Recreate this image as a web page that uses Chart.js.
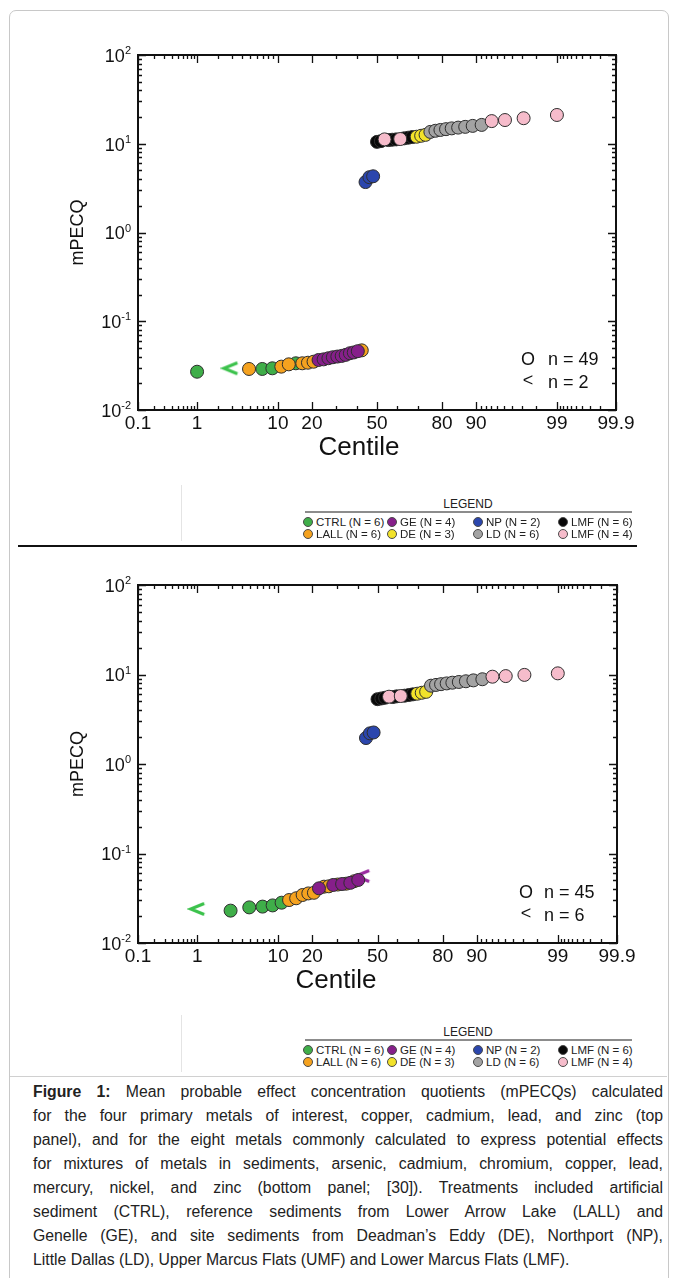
<!DOCTYPE html>
<html>
<head>
<meta charset="utf-8">
<title>mPECQ probability plots</title>
<script src="https://cdn.jsdelivr.net/npm/chart.js@4.4.1/dist/chart.umd.min.js"></script>
<style>
  body {
    margin: 0;
    width: 677px;
    height: 1278px;
    position: relative;
    overflow: hidden;
    background: #fff;
    font-family: "Liberation Sans", Arial, Helvetica, sans-serif;
    color: #1a1a1a;
  }
  .card {
    position: absolute;
    left: 9px; top: 10px;
    width: 658px; height: 1300px;
    border: 1px solid #c8c8c8;
    border-radius: 7px;
  }
  canvas { position: absolute; left: 0; }
  .sep { position: absolute; left: 18px; width: 619px; top: 545px; height: 2px; background: #111; }
  .caption-rule { position: absolute; left: 10px; width: 657px; top: 1076px; height: 1px; background: #d0d0d0; }
  .legend-edge { position: absolute; left: 181px; width: 1px; background: #e4e4e4; }
  .lg-title { position: absolute; font-size: 12px; transform: translate(-50%, -50%); color: #222; }
  .lg-rule { position: absolute; left: 305px; width: 327px; height: 2px; background: #8c8c8c; }
  .lg-dot {
    position: absolute; width: 10px; height: 10px; border-radius: 50%;
    box-sizing: border-box; border: 1px solid #4a4a4a; transform: translate(-50%, -50%);
  }
  .lg-text { position: absolute; font-size: 11.5px; color: #222; transform: translateY(-50%); white-space: nowrap; }
  .caption {
    position: absolute; left: 33px; top: 1080px; width: 630px;
    font-size: 15.8px; line-height: 24px; color: #222;
  }
  .caption .j { text-align: justify; text-align-last: justify; white-space: nowrap; }
</style>
</head>
<body>
<div class="card"></div>
<div class="legend-edge" style="top:485px;height:56px"></div>
<div class="legend-edge" style="top:1015px;height:57px"></div>
<canvas id="topChart" width="677" height="470" style="top:0"></canvas>
<canvas id="bottomChart" width="677" height="470" style="top:530px"></canvas>
<div class="sep"></div>
<div id="legends"></div>
<div class="caption-rule"></div>
<div class="caption">
  <div class="j"><b>Figure 1:</b> Mean probable effect concentration quotients (mPECQs) calculated</div>
  <div class="j">for the four primary metals of interest, copper, cadmium, lead, and zinc (top</div>
  <div class="j">panel), and for the eight metals commonly calculated to express potential effects</div>
  <div class="j">for mixtures of metals in sediments, arsenic, cadmium, chromium, copper, lead,</div>
  <div class="j">mercury, nickel, and zinc (bottom panel; [30]). Treatments included artificial</div>
  <div class="j">sediment (CTRL), reference sediments from Lower Arrow Lake (LALL) and</div>
  <div class="j">Genelle (GE), and site sediments from Deadman’s Eddy (DE), Northport (NP),</div>
  <div>Little Dallas (LD), Upper Marcus Flats (UMF) and Lower Marcus Flats (LMF).</div>
</div>

<script>
// ===== AXIS TICKS =====
const xMajorTicks = [0.1, 1, 10, 20, 50, 80, 90, 99, 99.9];
const xMinorTicks = [0.2, 0.3, 0.4, 0.5, 0.6, 0.7, 0.8, 0.9, 2, 3, 4, 5, 6, 7, 8, 9,
                     30, 40, 60, 70, 91, 92, 93, 94, 95, 96, 97, 98,
                     99.1, 99.2, 99.3, 99.4, 99.5, 99.6, 99.7, 99.8];
const yMajorTicks = [0.01, 0.1, 1, 10, 100];
const yMinorSteps = [2, 3, 4, 5, 6, 7, 8, 9];

// ===== TOP PANEL: Cu, Cd, Pb, Zn =====
const topCtrlCentile = [1.0, 6.9, 8.8, 14.7];
const topCtrlMpecq   = [0.027, 0.029, 0.0295, 0.0336];
const topLallCentile = [4.9, 10.8, 12.7, 16.7, 18.6, 20.6, 42.2];
const topLallMpecq   = [0.029, 0.0308, 0.0327, 0.0336, 0.0341, 0.035, 0.047];
const topGeCentile   = [22.5, 24.5, 26.5, 28.4, 30.4, 32.4, 34.3, 36.3, 38.2, 40.2];
const topGeMpecq     = [0.0366, 0.0372, 0.0383, 0.0393, 0.040, 0.0407, 0.0418, 0.0436, 0.0445, 0.046];
const topNpCentile   = [44.1, 46.1, 48.0];
const topNpMpecq     = [3.7, 4.2, 4.3];
const topLmfCentile  = [50.0, 52.0, 55.9, 57.8, 59.8, 63.7, 65.7, 67.6];
const topLmfMpecq    = [10.5, 10.7, 11.0, 11.1, 11.2, 11.5, 11.7, 11.9];
const topUmfCentile  = [53.9, 61.8, 93.1, 95.1, 97.1, 99.0];
const topUmfMpecq    = [11.2, 11.3, 18.0, 18.5, 19.4, 21.1];
const topDeCentile   = [69.6, 71.6, 73.5];
const topDeMpecq     = [12.0, 12.3, 12.6];
const topLdCentile   = [75.5, 77.5, 79.4, 81.4, 83.3, 85.3, 87.3, 89.2, 91.2];
const topLdMpecq     = [13.6, 14.0, 14.3, 14.6, 14.9, 15.2, 15.5, 15.9, 16.3];
const topCtrlLessCentile = [2.9];
const topCtrlLessMpecq   = [0.0295];
const topCircleCount = 49;
const topLessCount = 2;

// ===== BOTTOM PANEL: eight metals =====
const botCtrlCentile = [2.9, 4.9, 6.9, 8.8, 10.8];
const botCtrlMpecq   = [0.023, 0.025, 0.0255, 0.0263, 0.0282];
const botLallCentile = [12.7, 14.7, 16.7, 18.6, 20.6, 24.5, 26.5, 30.4, 34.3, 38.2];
const botLallMpecq   = [0.0302, 0.0316, 0.0344, 0.0358, 0.0364, 0.0426, 0.043, 0.045, 0.046, 0.049];
const botGeCentile   = [22.5, 28.4, 32.4, 36.3, 40.2];
const botGeMpecq     = [0.0408, 0.0445, 0.0456, 0.047, 0.0506];
const botNpCentile   = [44.1, 46.1, 48.0];
const botNpMpecq     = [1.95, 2.2, 2.25];
const botLmfCentile  = [50.0, 52.0, 53.9, 57.8, 59.8, 63.7, 65.7, 67.6];
const botLmfMpecq    = [5.3, 5.4, 5.5, 5.6, 5.7, 5.8, 5.9, 6.0];
const botUmfCentile  = [55.9, 61.8, 93.1, 95.1, 97.1, 99.0];
const botUmfMpecq    = [5.65, 5.75, 9.45, 9.6, 9.9, 10.3];
const botDeCentile   = [69.6, 71.6, 73.5];
const botDeMpecq     = [6.1, 6.25, 6.4];
const botLdCentile   = [75.5, 77.5, 79.4, 81.4, 83.3, 85.3, 87.3, 89.2, 91.2];
const botLdMpecq     = [7.5, 7.65, 7.8, 7.95, 8.1, 8.25, 8.4, 8.6, 8.85];
const botCtrlLessCentile = [1.0];
const botCtrlLessMpecq   = [0.024];
const botGeLessCentile   = [42.2];
const botGeLessMpecq     = [0.056];
const botCircleCount = 45;
const botLessCount = 6;

// ===== LEGEND =====
const legendNames  = ['CTRL', 'LALL', 'GE', 'DE', 'NP', 'LD', 'LMF', 'LMF'];
const legendCounts = [6, 6, 4, 3, 2, 6, 6, 4];

const colors = {
  ctrl: '#3fae49', lall: '#f5a21f', ge: '#861f8a', de: '#f2e22a',
  np: '#2b46ad', ld: '#a3a3a3', lmf: '#080808', umf: '#f6bccb'
};
const legendColors = [colors.ctrl, colors.lall, colors.ge, colors.de,
                      colors.np, colors.ld, colors.lmf, colors.umf];
const FONT = '"Liberation Sans", Arial, Helvetica, sans-serif';

// inverse standard normal CDF (Acklam), used for the probability axis
function probit(p) {
  const a = [-3.969683028665376e+01, 2.209460984245205e+02, -2.759285104469687e+02,
             1.383577518672690e+02, -3.066479806614716e+01, 2.506628277459239e+00];
  const b = [-5.447609879822406e+01, 1.615858368580409e+02, -1.556989798598866e+02,
             6.680131188771972e+01, -1.328068155288572e+01];
  const c = [-7.784894002430293e-03, -3.223964580411365e-01, -2.400758277161838e+00,
             -2.549732539343734e+00, 4.374664141464968e+00, 2.938163982698783e+00];
  const d = [7.784695709041462e-03, 3.224671290700398e-01, 2.445134137142996e+00,
             3.754408661907416e+00];
  const lo = 0.02425;
  if (p < lo) {
    const q = Math.sqrt(-2 * Math.log(p));
    return (((((c[0]*q + c[1])*q + c[2])*q + c[3])*q + c[4])*q + c[5]) /
           ((((d[0]*q + d[1])*q + d[2])*q + d[3])*q + 1);
  }
  if (p > 1 - lo) return -probit(1 - p);
  const q = p - 0.5, r = q * q;
  return (((((a[0]*r + a[1])*r + a[2])*r + a[3])*r + a[4])*r + a[5]) * q /
         (((((b[0]*r + b[1])*r + b[2])*r + b[3])*r + b[4])*r + 1);
}

// "<" marker used for values below detection
function lessThanMark(color) {
  const c = document.createElement('canvas');
  c.width = 20; c.height = 16;
  const g = c.getContext('2d');
  g.strokeStyle = color;
  g.lineWidth = 3;
  g.beginPath();
  g.moveTo(17, 2.5); g.lineTo(3.5, 8); g.lineTo(17, 13.5);
  g.stroke();
  return c;
}

function series(label, color, order, centiles, values) {
  return {
    label: label,
    order: order,
    data: centiles.map((c, i) => ({ x: probit(c / 100), y: values[i] })),
    backgroundColor: color,
    borderColor: '#2e2e2e',
    borderWidth: 1,
    pointRadius: 6.5,
    pointHoverRadius: 6.5
  };
}

function lessSeries(color, order, centiles, values) {
  return {
    label: '<',
    order: order,
    data: centiles.map((c, i) => ({ x: probit(c / 100), y: values[i] })),
    pointStyle: lessThanMark(color),
    pointRadius: 6,
    pointHoverRadius: 6
  };
}

// ===== FRAME, TICKS AND LABELS =====
const probFrame = {
  id: 'probFrame',
  afterDatasetsDraw(chart, args, o) {
    const { ctx, chartArea: a } = chart;
    const x = chart.scales.x, y = chart.scales.y;
    const xp = c => x.getPixelForValue(probit(c / 100));
    ctx.save();

    ctx.strokeStyle = '#111';
    ctx.lineWidth = 2;
    ctx.strokeRect(a.left, a.top, a.right - a.left, a.bottom - a.top);

    ctx.lineWidth = 1.3;
    ctx.beginPath();
    const xTick = (c, len) => {
      const px = Math.round(xp(c)) + 0.5;
      ctx.moveTo(px, a.bottom); ctx.lineTo(px, a.bottom - len);
      ctx.moveTo(px, a.top); ctx.lineTo(px, a.top + len);
    };
    const yTick = (v, len) => {
      const py = Math.round(y.getPixelForValue(v)) + 0.5;
      ctx.moveTo(a.left, py); ctx.lineTo(a.left + len, py);
      ctx.moveTo(a.right, py); ctx.lineTo(a.right - len, py);
    };
    xMajorTicks.forEach(c => xTick(c, 8));
    xMinorTicks.forEach(c => xTick(c, 4));
    yMajorTicks.forEach(v => yTick(v, 8));
    yMajorTicks.slice(0, -1).forEach(v => yMinorSteps.forEach(m => yTick(v * m, 4)));
    ctx.stroke();

    ctx.fillStyle = '#111';
    ctx.textBaseline = 'middle';
    ctx.textAlign = 'center';
    ctx.font = '19px ' + FONT;
    xMajorTicks.forEach(c => ctx.fillText(String(c), xp(c), a.bottom + 14));

    ctx.textAlign = 'left';
    yMajorTicks.forEach(v => {
      const py = y.getPixelForValue(v);
      const exp = String(Math.round(Math.log10(v)));
      ctx.font = '11px ' + FONT;
      const we = ctx.measureText(exp).width;
      ctx.font = '18px ' + FONT;
      const wb = ctx.measureText('10').width;
      const right = a.left - 7;
      ctx.fillText('10', right - we - wb, py + 2);
      ctx.font = '11px ' + FONT;
      ctx.fillText(exp, right - we, py - 4);
    });

    // axis titles
    ctx.textAlign = 'center';
    ctx.font = '26px ' + FONT;
    ctx.fillText('Centile', o.centileX, a.bottom + 38);
    ctx.save();
    ctx.translate(o.titleX, (a.top + a.bottom) / 2);
    ctx.rotate(-Math.PI / 2);
    ctx.font = '18px ' + FONT;
    ctx.fillText('mPECQ', 0, 0);
    ctx.restore();

    // sample-size key
    ctx.font = '18px ' + FONT;
    ctx.fillText('O', o.keyX, a.bottom - 50);
    ctx.fillText('<', o.keyX, a.bottom - 29);
    ctx.textAlign = 'left';
    ctx.fillText('n = ' + o.circles, o.keyTextX, a.bottom - 50);
    ctx.fillText('n = ' + o.less, o.keyTextX, a.bottom - 27);
    ctx.restore();
  }
};

function makeChart(id, sets, padding, frameOpts) {
  return new Chart(document.getElementById(id), {
    type: 'scatter',
    data: { datasets: sets },
    options: {
      responsive: false,
      animation: false,
      events: [],
      layout: { padding: padding },
      plugins: {
        legend: { display: false },
        tooltip: { enabled: false },
        probFrame: frameOpts
      },
      scales: {
        x: { type: 'linear', display: false, min: probit(0.001), max: probit(0.999) },
        y: { type: 'logarithmic', display: false, min: 0.01, max: 100 }
      }
    },
    plugins: [probFrame]
  });
}

// ===== TOP CHART =====
// lower "order" is painted later, so pink ends up on top
makeChart('topChart', [
  series('CTRL', colors.ctrl, 8, topCtrlCentile, topCtrlMpecq),
  series('LALL', colors.lall, 7, topLallCentile, topLallMpecq),
  series('GE', colors.ge, 6, topGeCentile, topGeMpecq),
  series('NP', colors.np, 5, topNpCentile, topNpMpecq),
  series('LMF', colors.lmf, 4, topLmfCentile, topLmfMpecq),
  series('DE', colors.de, 3, topDeCentile, topDeMpecq),
  series('LD', colors.ld, 2, topLdCentile, topLdMpecq),
  series('UMF', colors.umf, 1, topUmfCentile, topUmfMpecq),
  lessSeries('#3cc24c', 0, topCtrlLessCentile, topCtrlLessMpecq)
], { left: 138, top: 55, right: 61, bottom: 60 },
{ centileX: 359, titleX: 78, keyX: 528, keyTextX: 548, circles: topCircleCount, less: topLessCount });

// ===== BOTTOM CHART =====
makeChart('bottomChart', [
  series('CTRL', colors.ctrl, 8, botCtrlCentile, botCtrlMpecq),
  series('LALL', colors.lall, 7, botLallCentile, botLallMpecq),
  lessSeries('#9a2aa0', 6.5, botGeLessCentile, botGeLessMpecq),
  series('GE', colors.ge, 6, botGeCentile, botGeMpecq),
  series('NP', colors.np, 5, botNpCentile, botNpMpecq),
  series('LMF', colors.lmf, 4, botLmfCentile, botLmfMpecq),
  series('DE', colors.de, 3, botDeCentile, botDeMpecq),
  series('LD', colors.ld, 2, botLdCentile, botLdMpecq),
  series('UMF', colors.umf, 1, botUmfCentile, botUmfMpecq),
  lessSeries('#3cc24c', 0, botCtrlLessCentile, botCtrlLessMpecq)
], { left: 138, top: 55, right: 60, bottom: 57 },
{ centileX: 336, titleX: 78, keyX: 526, keyTextX: 544, circles: botCircleCount, less: botLessCount });

// ===== LEGEND BLOCKS =====
const legendBox = document.getElementById('legends');
const dotX = [308, 392, 478, 563];

function addLegend(y0) {
  const title = document.createElement('div');
  title.className = 'lg-title';
  title.textContent = 'LEGEND';
  title.style.left = '468px';
  title.style.top = y0 + 'px';
  legendBox.appendChild(title);

  const rule = document.createElement('div');
  rule.className = 'lg-rule';
  rule.style.top = (y0 + 7) + 'px';
  legendBox.appendChild(rule);

  legendNames.forEach((name, k) => {
    const col = Math.floor(k / 2), row = k % 2;
    const cy = y0 + 18 + row * 11.6;
    const dot = document.createElement('div');
    dot.className = 'lg-dot';
    dot.style.left = dotX[col] + 'px';
    dot.style.top = cy + 'px';
    dot.style.background = legendColors[k];
    legendBox.appendChild(dot);

    const txt = document.createElement('div');
    txt.className = 'lg-text';
    txt.textContent = name + ' (N = ' + legendCounts[k] + ')';
    txt.style.left = (dotX[col] + 8) + 'px';
    txt.style.top = cy + 'px';
    legendBox.appendChild(txt);
  });
}
addLegend(504);
addLegend(1032);
</script>
</body>
</html>
